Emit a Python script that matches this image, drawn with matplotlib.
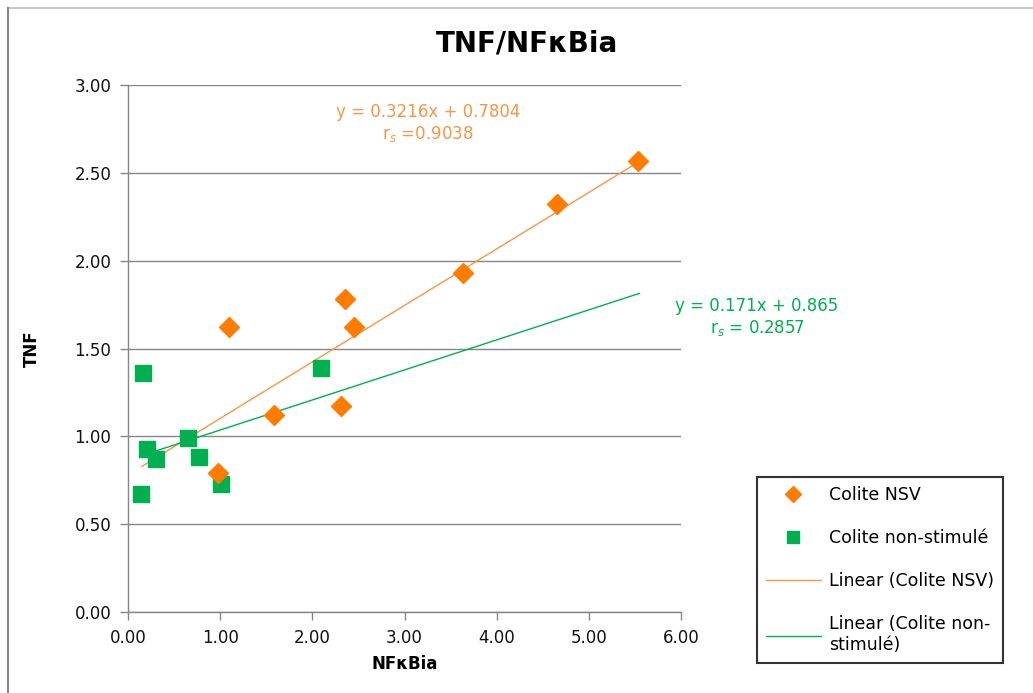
import numpy as np
import matplotlib
matplotlib.use('Agg')
import matplotlib.pyplot as plt
from matplotlib.lines import Line2D

# Colite NSV (orange diamonds)
nsv_x = [0.98, 1.10, 1.58, 2.31, 2.35, 2.45, 3.63, 4.66, 5.53]
nsv_y = [0.79, 1.62, 1.12, 1.17, 1.78, 1.62, 1.93, 2.32, 2.57]

# Colite non-stimulé (green squares)
ns_x = [0.14, 0.16, 0.21, 0.30, 0.65, 0.77, 1.01, 2.09]
ns_y = [0.67, 1.36, 0.93, 0.87, 0.99, 0.88, 0.73, 1.39]

# trendline equations shown on the chart
nsv_fit = (0.3216, 0.7804)
ns_fit = (0.171, 0.865)
trend_range = [0.15, 5.55]

orange = '#FF7C00'
orange_line = '#F79646'
green = '#00B050'
grey = '#868686'

fig = plt.figure(figsize=(10.33, 6.93), dpi=100)
ax = fig.add_axes([128 / 1033, 1 - 612 / 693, (681 - 128) / 1033, (612 - 85) / 693])

# chart area border (only top and left visible in the original)
fig.add_artist(Line2D([8 / 1033, 1], [1 - 8 / 693, 1 - 8 / 693], color='#BFBFBF', lw=1.2))
fig.add_artist(Line2D([8 / 1033, 8 / 1033], [0, 1 - 8 / 693], color=grey, lw=1.5))

xs = np.array(trend_range)
ax.plot(xs, nsv_fit[0] * xs + nsv_fit[1], color=orange_line, lw=1, zorder=3)
ax.plot(xs, ns_fit[0] * xs + ns_fit[1], color=green, lw=1, zorder=3)
ax.plot(ns_x, ns_y, 's', color=green, ms=12, mec=green, zorder=4)
ax.plot(nsv_x, nsv_y, 'D', color=orange, ms=10, mec=orange, zorder=5)

ax.set_xlim(0, 6)
ax.set_ylim(0, 3)
ax.set_xticks(np.arange(0, 6.01, 1))
ax.set_yticks(np.arange(0, 3.01, 0.5))
ax.xaxis.set_major_formatter(matplotlib.ticker.FormatStrFormatter('%.2f'))
ax.yaxis.set_major_formatter(matplotlib.ticker.FormatStrFormatter('%.2f'))
ax.tick_params(axis='both', labelsize=12, color=grey, length=6, width=1, labelcolor='#111111')
ax.tick_params(axis='y', pad=6)
ax.tick_params(axis='x', pad=6)
ax.grid(axis='y', color=grey, lw=1)
ax.set_axisbelow(True)
for s in ['top', 'right']:
    ax.spines[s].set_visible(False)
for s in ['left', 'bottom']:
    ax.spines[s].set_color(grey)
    ax.spines[s].set_linewidth(1)

ax.set_xlabel('NFκBia', fontsize=12, fontweight='bold', labelpad=6)
ax.set_ylabel('TNF', fontsize=12, fontweight='bold', labelpad=24)
fig.text(527 / 1033, 1 - 44 / 693, 'TNF/NFκBia', fontsize=20, fontweight='bold',
         ha='center', va='center')

# trendline equations
ax.text(428 / 1033, 1 - 112 / 693, 'y = 0.3216x + 0.7804', transform=fig.transFigure,
        color=orange_line, fontsize=12, ha='center', va='center')
ax.text(428 / 1033, 1 - 134 / 693, r'r$_s$ =0.9038', transform=fig.transFigure,
        color=orange_line, fontsize=12, ha='center', va='center')
ax.text(757 / 1033, 1 - 306 / 693, 'y = 0.171x + 0.865', transform=fig.transFigure,
        color=green, fontsize=12, ha='center', va='center')
ax.text(757 / 1033, 1 - 328 / 693, r'r$_s$ = 0.2857', transform=fig.transFigure,
        color=green, fontsize=12, ha='center', va='center')

handles = [
    Line2D([], [], marker='D', color=orange, ls='none', ms=8),
    Line2D([], [], marker='s', color=green, ls='none', ms=9),
    Line2D([], [], color=orange_line, lw=1),
    Line2D([], [], color=green, lw=1),
]
labels = ['Colite NSV', 'Colite non-stimulé', 'Linear (Colite NSV)',
          'Linear (Colite non-\nstimulé)']
leg = fig.legend(handles, labels, loc='upper left',
                 bbox_to_anchor=(757 / 1033, 1 - 477 / 693), fontsize=12.5,
                 frameon=True, fancybox=False, edgecolor='black',
                 labelspacing=1.45, handlelength=3.2, handletextpad=0.45,
                 borderpad=0.5, borderaxespad=0)
leg.get_frame().set_linewidth(1.5)

fig.savefig('out.png', dpi=100)
